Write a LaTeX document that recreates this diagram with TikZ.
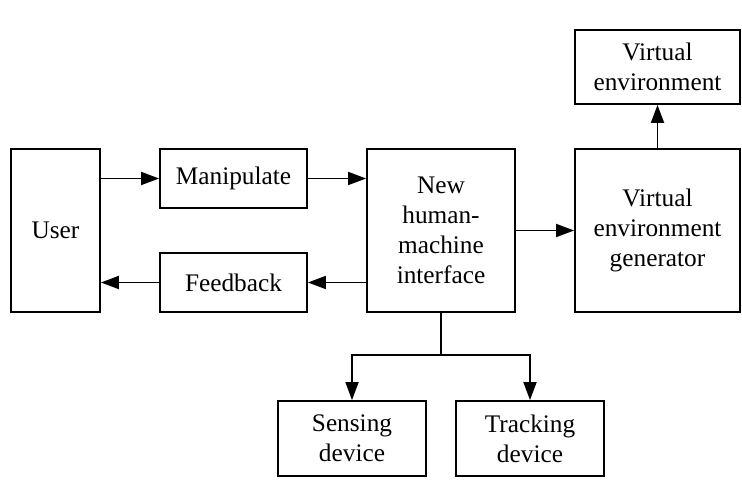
\documentclass[tikz,border=0pt]{standalone}
\usepackage{fontspec}
\setmainfont{Liberation Serif}
\usetikzlibrary{arrows.meta,positioning}

\tikzset{
  block/.style={draw, line width=1.8pt, align=center, inner sep=0pt,
    font=\fontsize{25.3}{30}\selectfont},
  conn/.style={line width=1.8pt, -{Triangle[length=18pt,width=13pt]}}
}

\begin{document}
\begin{tikzpicture}[x=1pt,y=1pt]
  \useasboundingbox (0,0) rectangle (742,498);
  \node[block, minimum width=89pt, minimum height=163pt] (user) at (55.5,267.5) {User};
  \node[block, minimum width=147pt, minimum height=59pt] (manip) at (233.5,319.5) {Manipulate};
  \node[block, minimum width=147pt, minimum height=59pt] (feed) at (233.5,215.5) {Feedback};
  \node[block, minimum width=148pt, minimum height=163pt] (hmi) at (441,267.5) {New\\human-\\machine\\interface};
  \node[block, minimum width=165pt, minimum height=163pt] (gen) at (657.5,267.5) {Virtual\\environment\\generator};
  \node[block, minimum width=165pt, minimum height=74pt] (env) at (657.5,431) {Virtual\\environment};
  \node[block, minimum width=148pt, minimum height=75pt] (sens) at (352,59.5) {Sensing\\device};
  \node[block, minimum width=148pt, minimum height=75pt] (track) at (530,59.5) {Tracking\\device};
  \coordinate (split) at (441,143);
  \draw[conn] (user.east |- manip) -- (manip);
  \draw[conn] (manip) -- (hmi.west |- manip);
  \draw[conn] (hmi.west |- feed) -- (feed);
  \draw[conn] (feed) -- (user.east |- feed);
  \draw[conn] (hmi) -- (gen);
  \draw[conn] (gen) -- (env);
  \draw[line width=1.8pt] (hmi) -- (split);
  \draw[conn] (split) -| (sens);
  \draw[conn] (split) -| (track);
\end{tikzpicture}
\end{document}
